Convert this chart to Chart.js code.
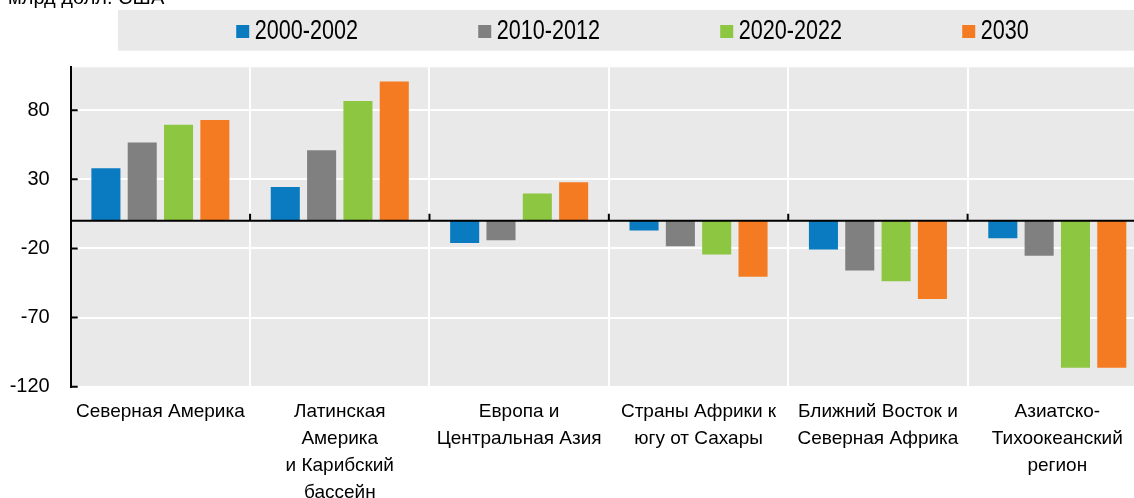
<!DOCTYPE html>
<html lang="ru">
<head>
<meta charset="utf-8">
<title>Регионы</title>
<script src="https://cdn.jsdelivr.net/npm/chart.js@4/dist/chart.umd.min.js"></script>
<style>
  html, body { margin: 0; padding: 0; overflow: hidden; background: #fff; }
  #wrap { position: absolute; left: 0; top: 0; width: 1147px; height: 498px; }
</style>
</head>
<body>
<div id="wrap"><canvas id="chart"></canvas></div>
<script>
// [1] DATA
const UNIT_LABEL = 'млрд долл. США';
const CATEGORIES = [
  'Северная Америка',
  ['Латинская', 'Америка', 'и Карибский', 'бассейн'],
  ['Европа и', 'Центральная Азия'],
  ['Страны Африки к', 'югу от Сахары'],
  ['Ближний Восток и', 'Северная Африка'],
  ['Азиатско-', 'Тихоокеанский', 'регион']
];
const SERIES_NAMES = ['2000-2002', '2010-2012', '2020-2022', '2030'];
const V_2000_2002 = [38, 24.4, -16, -7, -20.7, -12.7];
const V_2010_2012 = [56.7, 51, -14, -18.5, -36, -25.3];
const V_2020_2022 = [69.4, 86.7, 19.8, -24.3, -43.8, -106.3];
const V_2030      = [72.8, 100.8, 27.8, -40.5, -56.6, -106.3];
const Y_TICKS = [-120, -70, -20, 30, 80];
const Y_MIN = -120;
const Y_MAX = 111;

// [2] STYLE
const COLORS = ['#0a7bc0', '#808080', '#8dc641', '#f47b22'];
const PANEL_BG = '#e9e9e9';
const FONT = "'Liberation Sans', Arial, sans-serif";
Chart.defaults.font.family = FONT;
Chart.defaults.color = '#000';

const SERIES = [V_2000_2002, V_2010_2012, V_2020_2022, V_2030];

// [3] DECORATION PLUGIN: panel, zero line, inward ticks, legend band, unit
const decor = {
  id: 'decor',
  beforeDraw(chart) {
    const { ctx, chartArea: a } = chart;
    ctx.save();
    ctx.fillStyle = PANEL_BG;
    ctx.fillRect(a.left, a.top, a.right - a.left, a.bottom - a.top);
    ctx.fillRect(118, 10, chart.width - 118, 40.7);
    ctx.restore();
  },
  afterDatasetsDraw(chart) {
    const { ctx, chartArea: a, scales: { x, y } } = chart;
    const y0 = y.getPixelForValue(0);
    ctx.save();
    ctx.strokeStyle = '#000';
    ctx.lineWidth = 2;
    ctx.beginPath();
    ctx.moveTo(a.left, y0);
    ctx.lineTo(a.right, y0);
    // small upward ticks at category borders
    const half = (x.getPixelForValue(1) - x.getPixelForValue(0)) / 2;
    for (let i = 1; i < CATEGORIES.length; i++) {
      const bx = x.getPixelForValue(i) - half;
      ctx.moveTo(bx, y0);
      ctx.lineTo(bx, y0 - 7);
    }
    // inward ticks on value axis
    Y_TICKS.forEach(v => {
      const py = y.getPixelForValue(v);
      ctx.moveTo(a.left, py);
      ctx.lineTo(a.left + 7, py);
    });
    ctx.stroke();
    ctx.restore();
  },
  afterDraw(chart) {
    const { ctx } = chart;
    ctx.save();
    ctx.fillStyle = '#000';
    ctx.textBaseline = 'alphabetic';
    // unit label, cut by the top edge
    ctx.font = `20px ${FONT}`;
    ctx.fillText(UNIT_LABEL, 8, 4);

    // legend, centred in the grey band with fixed step
    const STEP = 242, BOX = 13, GAP = 5.5, SX = 0.8;
    ctx.font = `27px ${FONT}`;
    const lastW = BOX + GAP + ctx.measureText(SERIES_NAMES[SERIES_NAMES.length - 1]).width * SX;
    const total = STEP * (SERIES_NAMES.length - 1) + lastW;
    const centre = (118 + chart.width) / 2;
    let lx = centre - total / 2;
    SERIES_NAMES.forEach((name, i) => {
      ctx.fillStyle = COLORS[i];
      ctx.fillRect(lx, 25, BOX, BOX);
      ctx.fillStyle = '#000';
      ctx.save();
      ctx.translate(lx + BOX + GAP, 39);
      ctx.scale(SX, 1);
      ctx.fillText(name, 0, 0);
      ctx.restore();
      lx += STEP;
    });
    ctx.restore();
  }
};

// [4] CHART
new Chart(document.getElementById('chart'), {
  type: 'bar',
  data: {
    labels: CATEGORIES,
    datasets: SERIES.map((vals, i) => ({
      label: SERIES_NAMES[i],
      data: vals,
      backgroundColor: COLORS[i],
      borderWidth: 0,
      categoryPercentage: 0.81,
      barPercentage: 0.8
    }))
  },
  options: {
    responsive: true,
    maintainAspectRatio: false,
    animation: false,
    layout: { padding: { top: 67.3, left: 0, right: 0, bottom: 0 } },
    plugins: {
      legend: { display: false },
      title: { display: false },
      tooltip: { enabled: false }
    },
    scales: {
      x: {
        border: { display: false },
        grid: { color: '#fff', lineWidth: 2, drawTicks: false, offset: true },
        ticks: {
          font: { size: 19, lineHeight: 1.42 },
          color: '#000',
          padding: 12,
          autoSkip: false,
          maxRotation: 0,
          minRotation: 0
        },
        afterFit(scale) { scale.height = 111.3; }
      },
      y: {
        min: Y_MIN,
        max: Y_MAX,
        border: { display: true, color: '#000', width: 2 },
        grid: { color: '#fff', lineWidth: 2, drawTicks: false },
        ticks: { font: { size: 20 }, color: '#000', padding: 21 },
        afterBuildTicks(scale) { scale.ticks = Y_TICKS.map(v => ({ value: v })); },
        afterFit(scale) { scale.width = 70.7; }
      }
    }
  },
  plugins: [decor]
});
</script>
</body>
</html>
